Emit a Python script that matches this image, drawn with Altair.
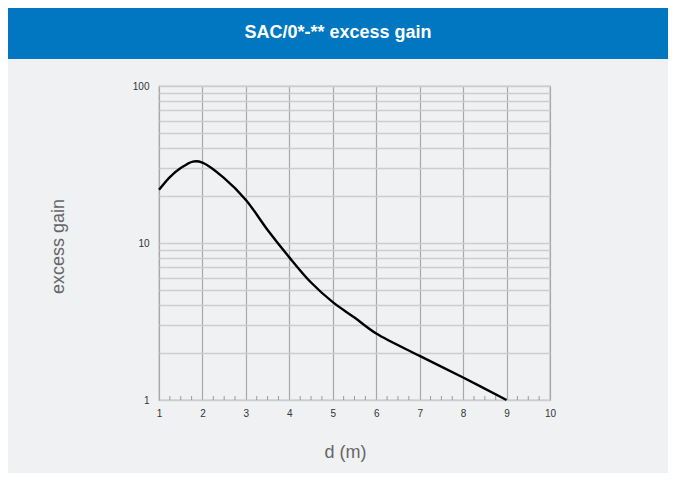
import altair as alt
import pandas as pd

# ---- data ----
distance_m = [1.0, 1.25, 1.5, 1.78, 2.0, 2.5, 3.0, 3.5, 4.0, 4.5, 5.0, 5.5, 6.0, 7.0, 8.0, 9.0]
excess_gain = [21.8, 26.3, 30.0, 33.0, 32.5, 25.9, 18.8, 12.1, 8.1, 5.6, 4.2, 3.35, 2.65, 1.91, 1.39, 1.0]

x_ticks = [1, 2, 3, 4, 5, 6, 7, 8, 9, 10]
y_grid = [1, 2, 3, 4, 5, 6, 7, 8, 9, 10, 20, 30, 40, 50, 60, 70, 80, 90, 100]
minor_x = [i + q for i in range(1, 10) for q in (0.25, 0.5, 0.75)]

title_text = "SAC/0*-** excess gain"
x_title = "d (m)"
y_title = "excess gain"

BG = "#f0f1f3"
BLUE = "#0077c0"
W, H = 391, 314
PAD = {"left": 151, "top": 78, "right": 118, "bottom": 73}

curve_df = pd.DataFrame({"d": distance_m, "gain": excess_gain})
minor_df = pd.DataFrame({"d": minor_x})

x_scale = alt.Scale(domain=[1, 10], nice=False, zero=False)
y_scale = alt.Scale(type="log", domain=[1, 100], nice=False)

x_axis = alt.Axis(
    values=x_ticks, grid=True, gridColor="#a8a8a8", gridWidth=1.2,
    ticks=False, domain=False, labelFontSize=10, labelColor="#333333",
    labelPadding=8, labelFont="Liberation Sans", labelFlush=False,
    title=x_title, titleFontSize=18, titleFontWeight="normal", titleColor="#666666",
    titleFont="Liberation Sans", titleX=186, titleY=52, titleBaseline="middle",
)
y_axis = alt.Axis(
    values=y_grid, grid=True, gridColor="#cdcdcd", gridWidth=1.4,
    ticks=False, domain=False, labelFontSize=10, labelColor="#333333",
    labelPadding=10, labelFont="Liberation Sans", labelFlush=False,
    labelExpr="indexof([1, 10, 100], datum.value) >= 0 ? format(datum.value, 'd') : ''",
    title=y_title, titleFontSize=18, titleFontWeight="normal", titleColor="#666666",
    titleFont="Liberation Sans", titleAngle=-90, titleX=-101, titleY=160,
    titleBaseline="middle",
)

curve = alt.Chart(curve_df).mark_line(
    color="black", strokeWidth=2.4, interpolate="catmull-rom"
).encode(
    x=alt.X("d:Q", scale=x_scale, axis=x_axis),
    y=alt.Y("gain:Q", scale=y_scale, axis=y_axis),
)

minor = alt.Chart(minor_df).mark_rule(color="#9a9a9a", strokeWidth=1).encode(
    x=alt.X("d:Q", scale=x_scale),
    y=alt.value(H),
    y2=alt.value(H - 4),
)

header = alt.Chart(pd.DataFrame({"t": [title_text]})).mark_rect(color=BLUE).encode(
    x=alt.value(-PAD["left"]), x2=alt.value(W + PAD["right"]),
    y=alt.value(-PAD["top"]), y2=alt.value(-27),
)
header_text = alt.Chart(pd.DataFrame({"t": [title_text]})).mark_text(
    color="white", fontSize=18, fontWeight="bold", font="Liberation Sans",
    align="center", baseline="middle",
).encode(
    text="t:N", x=alt.value(179), y=alt.value(-53),
)

chart = alt.layer(header, header_text, minor, curve).properties(
    width=W, height=H,
    autosize=alt.AutoSizeParams(type="none"),
    padding=PAD,
    background=BG,
).configure_view(stroke="#a0a0a0", strokeWidth=1.2)

chart.save("out.html", embed_options={"renderer": "svg", "actions": False})
